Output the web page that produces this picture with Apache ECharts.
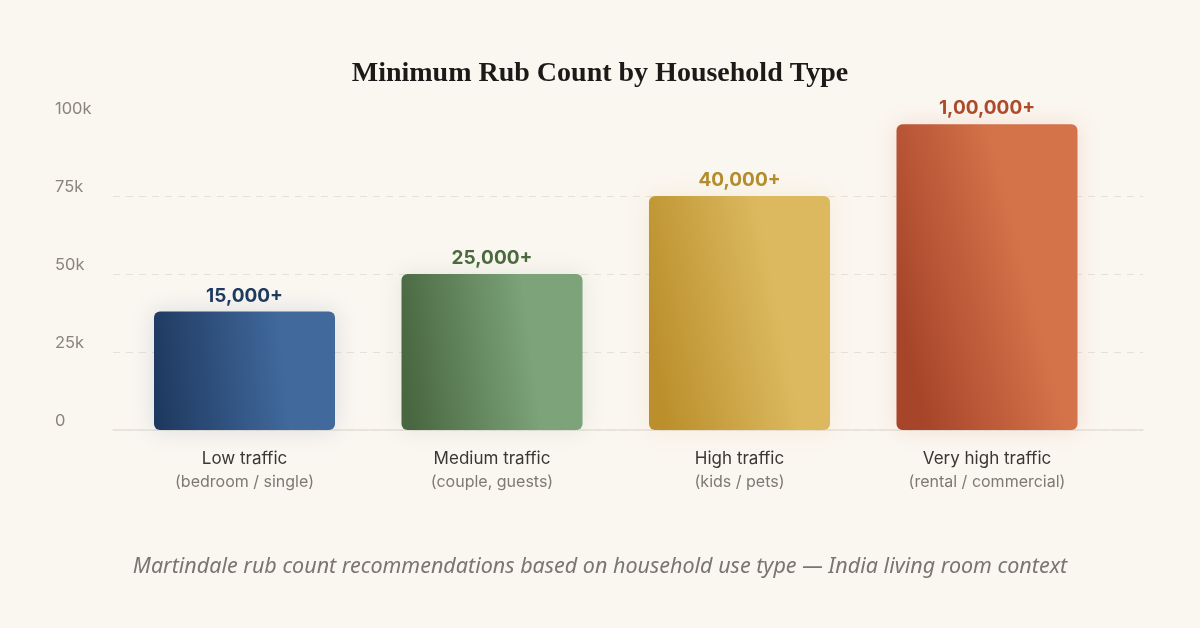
<!DOCTYPE html>
<html>
<head>
<meta charset="utf-8">
<script src="https://cdn.jsdelivr.net/npm/echarts@6/dist/echarts.min.js"></script>
<style>
  html, body { margin: 0; padding: 0; background: #faf6f0; }
  #main { width: 1200px; height: 628px; }
</style>
</head>
<body>
<div id="main"></div>
<script>
// chart data
const categories = ['Low traffic', 'Medium traffic', 'High traffic', 'Very high traffic'];
const subLabels = ['(bedroom / single)', '(couple, guests)', '(kids / pets)', '(rental / commercial)'];
const barValues = [38000, 50000, 75000, 98000];
const valueLabels = ['15,000+', '25,000+', '40,000+', '1,00,000+'];
const yTicks = [0, 25000, 50000, 75000, 100000];

// bar colours: [dark, light, label]
const palette = [
    ['#1e3960', '#41699c', '#1f3a5f'],
    ['#48663f', '#7ca37a', '#4a6a3e'],
    ['#bb8f2c', '#dcb95f', '#b38d2c'],
    ['#a7452a', '#d4724a', '#ad4a2a']
];

const chart = echarts.init(document.getElementById('main'));

const barData = barValues.map((v, i) => ({
    value: v,
    itemStyle: {
        // darker at the left, lighter toward the right
        color: new echarts.graphic.LinearGradient(0, 0.6, 1, 0.45, [
            {offset: 0, color: palette[i][0]},
            {offset: 0.72, color: palette[i][1]},
            {offset: 1, color: palette[i][1]}
        ]),
        borderRadius: 6,
        shadowBlur: 22,
        shadowColor: echarts.color.modifyAlpha(palette[i][1], 0.18)
    },
    label: {color: palette[i][2]}
}));

const option = {
    backgroundColor: '#faf6f0',
    animation: false,
    title: {
        text: 'Minimum Rub Count by Household Type',
        left: 'center',
        top: 55,
        textStyle: {
            fontFamily: 'Liberation Serif',
            fontWeight: 'bold',
            fontSize: 28,
            color: '#1c1a18'
        }
    },
    graphic: [{
        type: 'text',
        left: 'center',
        top: 556,
        style: {
            text: 'Martindale rub count recommendations based on household use type \u2014 India living room context',
            font: 'italic 21.5px "Noto Sans"',
            fill: '#7a7570'
        }
    }],
    grid: [
        // bars
        {left: 120.75, right: 89.25, top: 118, bottom: 198},
        // axis decoration (wider)
        {left: 113, right: 57, top: 118, bottom: 198}
    ],
    xAxis: [{
        type: 'category',
        gridIndex: 0,
        data: categories,
        axisLine: {show: false},
        axisTick: {show: false},
        axisLabel: {
            margin: 17,
            formatter: (v, i) => '{a|' + v + '}\n{b|' + subLabels[i] + '}',
            rich: {
                a: {fontFamily: 'Inter', fontSize: 17, color: '#3a3632', lineHeight: 24},
                b: {fontFamily: 'Inter', fontSize: 16, color: '#7f7973', lineHeight: 22}
            }
        }
    }, {
        type: 'category',
        gridIndex: 1,
        data: categories,
        axisLine: {lineStyle: {color: '#e6e0d8', width: 1.5}},
        axisTick: {show: false},
        axisLabel: {show: false}
    }],
    yAxis: [{
        type: 'value',
        gridIndex: 0,
        min: 0,
        max: 100000,
        interval: 25000,
        show: false,
        splitLine: {show: false}
    }, {
        type: 'value',
        gridIndex: 1,
        min: yTicks[0],
        max: yTicks[yTicks.length - 1],
        interval: 25000,
        axisLine: {show: false},
        axisTick: {show: false},
        axisLabel: {
            margin: 58,
            align: 'left',
            verticalAlign: 'bottom',
            fontFamily: 'Inter',
            fontSize: 16.5,
            color: '#8a847d',
            formatter: v => v === 0 ? '0' : (v / 1000) + 'k'
        },
        splitLine: {
            showMaxLine: false,
            lineStyle: {color: '#e6e0d8', type: [7, 6], width: 1}
        }
    }],
    series: [{
        type: 'bar',
        xAxisIndex: 0,
        yAxisIndex: 0,
        barWidth: 181,
        data: barData,
        label: {
            show: true,
            position: 'top',
            distance: 6,
            fontFamily: 'Inter',
            fontWeight: 'bold',
            fontSize: 19,
            formatter: p => valueLabels[p.dataIndex]
        }
    }]
};

chart.setOption(option);
</script>
</body>
</html>
